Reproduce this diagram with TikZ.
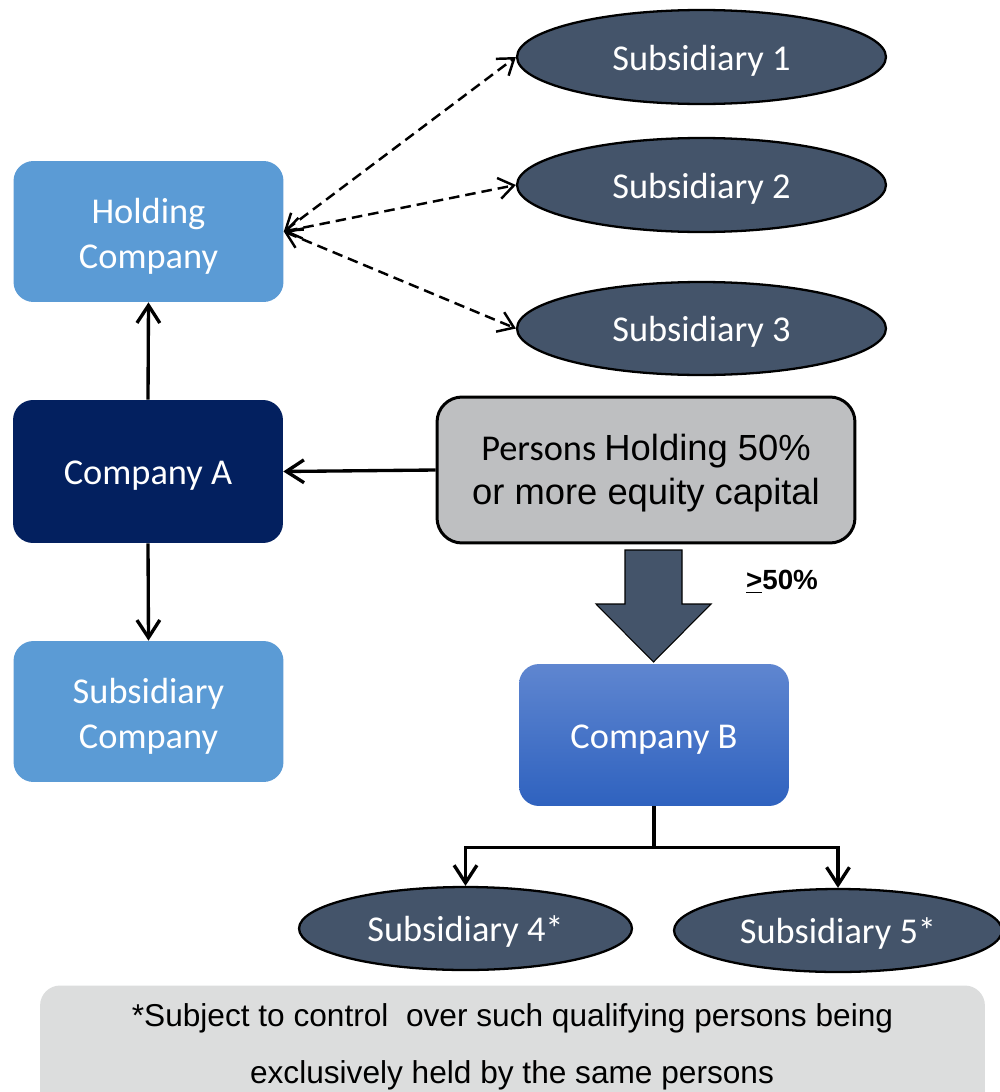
\documentclass[tikz,border=0pt]{standalone}
\usepackage{fontspec}
\setmainfont{Carlito}
\newfontfamily\arialfont{Liberation Sans}
\usetikzlibrary{arrows.meta,shapes.geometric,positioning}
\definecolor{lightblue}{HTML}{5B9BD5}
\definecolor{navy}{HTML}{03205F}
\definecolor{slate}{HTML}{44546A}
\definecolor{boxgray}{HTML}{BEBFC1}
\definecolor{notegray}{HTML}{DCDDDD}
\definecolor{btop}{HTML}{5F86D0}
\definecolor{bbot}{HTML}{2F62BF}
\newcommand{\topstrut}[1]{\rule{0pt}{#1}}
\tikzset{
  x=0.02cm, y=-0.02cm,
  label font/.style={font=\fontsize{20.7}{25.6}\selectfont},
  oneline/.style={text height=16pt, text depth=1pt},
  company/.style={rectangle, rounded corners=0.4cm, text=white, align=center,
    minimum width=5.4cm, minimum height=2.82cm, label font, inner sep=0pt},
  subsid/.style={ellipse, fill=slate, draw=black, line width=1.3pt, text=white,
    label font, inner sep=0pt, oneline},
  barb/.tip={Straight Barb[length=8.5pt,width=12pt,line width=1.4pt]},
  solidarrow/.style={line width=1.9pt, -{Straight Barb[length=10pt,width=13pt,line width=1.9pt]}},
  dasharrow/.style={line width=1.4pt, dash pattern=on 6pt off 3.4pt, barb-barb},
}
\begin{document}
\begin{tikzpicture}
\clip (0,0) rectangle (1000,1092);
\fill[white] (0,0) rectangle (1000,1092);

% left column
\node[company, fill=lightblue] (hold) at (148.5,231.5) {\topstrut{20pt}Holding\\Company};
\node[company, fill=navy, minimum height=2.86cm, oneline] (compA) at (148,471.5) {Company A};
\node[company, fill=lightblue] (subco) at (148.5,711.5) {\topstrut{20pt}Subsidiary\\Company};

% subsidiaries of the holding company
\node[subsid, minimum width=7.38cm, minimum height=1.88cm] (s1) at (701.5,57) {Subsidiary 1};
\node[subsid, minimum width=7.38cm, minimum height=1.88cm] (s2) at (701.5,185) {Subsidiary 2};
\node[subsid, minimum width=7.38cm, minimum height=1.86cm] (s3) at (701.5,328.5) {Subsidiary 3};

\coordinate (hub) at (hold.east);
\draw[dasharrow] (hub) -- (s1.west);
\draw[dasharrow] (hub) -- (s2.west);
\draw[dasharrow] (hub) -- (s3.west);

\draw[solidarrow] (compA.north) -- (hold.south);
\draw[solidarrow] (compA.south) -- (subco.north);

% persons holding the equity capital
\node[rectangle, rounded corners=0.5cm, fill=boxgray, draw=black, line width=1.7pt,
  minimum width=8.36cm, minimum height=2.92cm, align=center, inner sep=0pt,
  font=\fontsize{20.7}{25.5}\selectfont] (persons) at (646,470)
  {\topstrut{18.5pt}Persons {\arialfont Holding 50\%}\\{\arialfont or more equity capital}};
\draw[solidarrow] (persons.west) -- (compA.east);

% block arrow down to company B
\fill[slate, draw=black, line width=0.6pt]
  (625,550) -- (682,550) -- (682,604) -- (711,604) -- (653.5,662)
  -- (596,604) -- (625,604) -- cycle;
\node[font=\arialfont\bfseries\fontsize{15.8}{18}\selectfont, inner sep=0pt] (pct) at (782,582)
  {\underline{>}50\%};

\node[company, shade, top color=btop, bottom color=bbot, minimum height=2.84cm, oneline] (compB)
  at (654,735) {Company B};

% subsidiaries of company B
\node[subsid, minimum width=6.66cm, minimum height=1.66cm] (s4) at (465.5,928.5) {Subsidiary 4*};
\node[subsid, minimum width=6.56cm, minimum height=1.66cm] (s5) at (838,930.5) {Subsidiary 5*};

\draw[line width=1.9pt] (compB.south) -- ++(0,41) coordinate (fork);
\draw[solidarrow] (fork) -| (s4.north);
\draw[solidarrow] (fork) -| (s5.north);

% footnote
\node[rectangle, rounded corners=0.4cm, fill=notegray, minimum width=18.9cm,
  minimum height=2.9cm, inner sep=0pt] (note) at (512.5,1058) {};
\node[font=\arialfont\fontsize{18}{20}\selectfont, inner sep=0pt] (note1) at (512.5,1018)
  {*Subject to control\ \ over such qualifying persons being};
\node[font=\arialfont\fontsize{18}{20}\selectfont, inner sep=0pt] (note2) at (512,1075)
  {exclusively held by the same persons};
\end{tikzpicture}
\end{document}
